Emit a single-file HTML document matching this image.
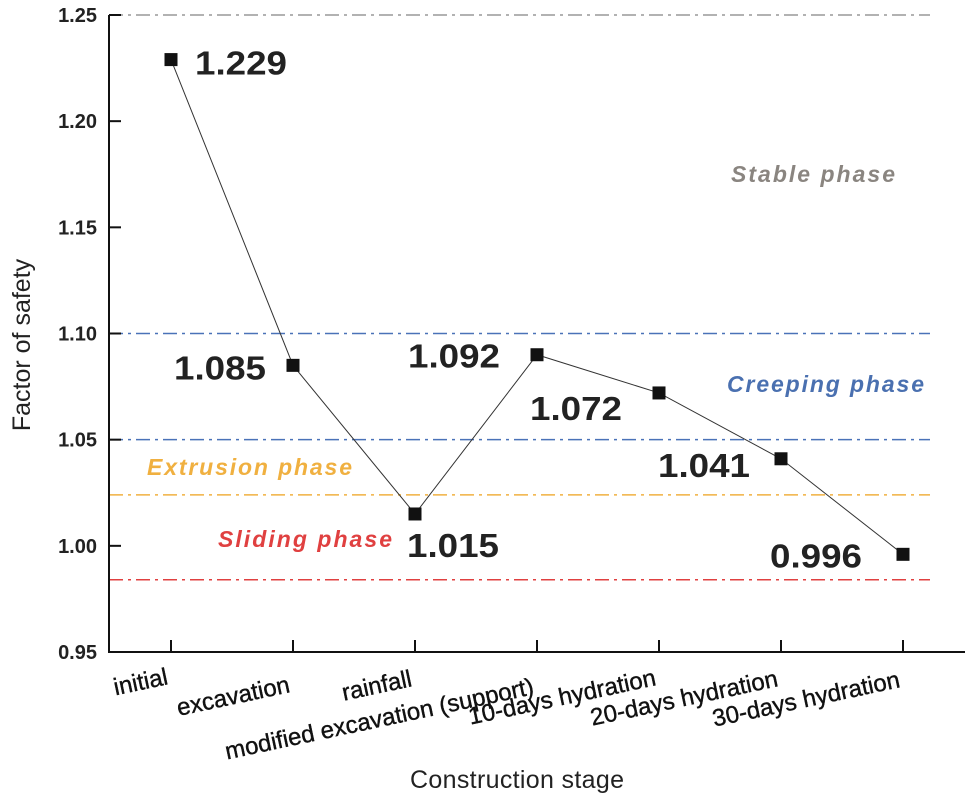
<!DOCTYPE html>
<html><head><meta charset="utf-8"><style>
body{margin:0;background:#fff;}
svg text{font-family:"Liberation Sans",Arial,sans-serif;}
</style></head><body>
<svg id="chart" width="970" height="801" viewBox="0 0 970 801" xmlns="http://www.w3.org/2000/svg">
<g id="grid"></g><g id="axes"></g><g id="series"></g><g id="labels"></g>
<text x="410" y="788" font-size="25" fill="#222" textLength="214">Construction stage</text>
<text transform="translate(30,345) rotate(-90)" text-anchor="middle" font-size="25" fill="#222">Factor of safety</text>
</svg>
<script>
const categories=["initial","excavation","rainfall","modified excavation (support)","10-days hydration","20-days hydration","30-days hydration"];
const fosValues=[1.229,1.085,1.015,1.090,1.072,1.041,0.996];
const valueLabels=["1.229","1.085","1.015","1.092","1.072","1.041","0.996"];
const yTicks=[0.95,1.00,1.05,1.10,1.15,1.20,1.25];
const yTickLabels=["0.95","1.00","1.05","1.10","1.15","1.20","1.25"];
const thresholdValues=[1.25,1.10,1.05,1.024,0.984];
const thresholdColors=["#999999","#4a72b8","#4a72b8","#f0b040","#e04040"];
const phaseNames=["Stable phase","Creeping phase","Extrusion phase","Sliding phase"];

const NS="http://www.w3.org/2000/svg";
const X0=109,X1=965,YT=15,YB=652;
const y=v=>YB-(v-0.95)/(0.30)*(YB-YT);
const x=i=>171+i*122;
function el(tag,attrs,parent,txt){const e=document.createElementNS(NS,tag);for(const k in attrs)e.setAttribute(k,attrs[k]);if(txt!==undefined)e.textContent=txt;parent.appendChild(e);return e;}
const grid=document.getElementById('grid'),axes=document.getElementById('axes'),series=document.getElementById('series'),labels=document.getElementById('labels');

thresholdValues.forEach((v,i)=>{
  const l=el('line',{x1:X0,x2:930,y1:y(v),y2:y(v),stroke:thresholdColors[i],'stroke-width':1.5,'stroke-dasharray':'14,5,3,5'},grid);
  
  
});
const phasePos=[[731,182,"#8a8580",164],[727,392,"#4a70b0",197],[147,475,"#f0b040",205],[218,547,"#e04040",174]];
phaseNames.forEach((n,i)=>{
  const t=el('text',{x:phasePos[i][0],y:phasePos[i][1],'font-size':23,'font-weight':'bold','font-style':'italic',fill:phasePos[i][2],textLength:phasePos[i][3]},labels,n);
  
  
});

const ax=el('path',{d:`M${X0},${YT} L${X0},${YB} L${X1},${YB}`,fill:'none',stroke:'#111','stroke-width':2},axes);


yTicks.forEach((v,i)=>{
  el('line',{x1:X0,x2:X0+12,y1:y(v),y2:y(v),stroke:'#111','stroke-width':2},axes);
  const t=el('text',{x:X0-12,y:y(v)+7,'text-anchor':'end','font-size':20,'font-weight':'bold',fill:'#222'},axes,yTickLabels[i]);
  
  
});
const catLy=[684,692,686,694,685,686,687];
categories.forEach((c,i)=>{
  el('line',{x1:x(i),x2:x(i),y1:YB,y2:YB-12,stroke:'#111','stroke-width':2},axes);
  const t=el('text',{transform:`translate(${x(i)-2},${catLy[i]}) rotate(-12)`,'text-anchor':'end','font-size':24,fill:'#111',stroke:'#111','stroke-width':0.4},axes,c);
  
  
});

const pts=fosValues.map((v,i)=>x(i)+','+y(v)).join(' ');
const pl=el('polyline',{points:pts,fill:'none',stroke:'#333','stroke-width':1},series);


const lblOff=[[24,15],[-119,14],[-8,43],[-129,13],[-129,27],[-123,18],[-133,13]];
fosValues.forEach((v,i)=>{
  const r=el('rect',{x:x(i)-6.5,y:y(v)-6.5,width:13,height:13,fill:'#111'},series);
  
  
  const t=el('text',{x:x(i)+lblOff[i][0],y:y(v)+lblOff[i][1],'font-size':33,'font-weight':'bold',fill:'#222',textLength:92,lengthAdjust:'spacingAndGlyphs'},labels,valueLabels[i]);
  
  
});
</script>
</body></html>
